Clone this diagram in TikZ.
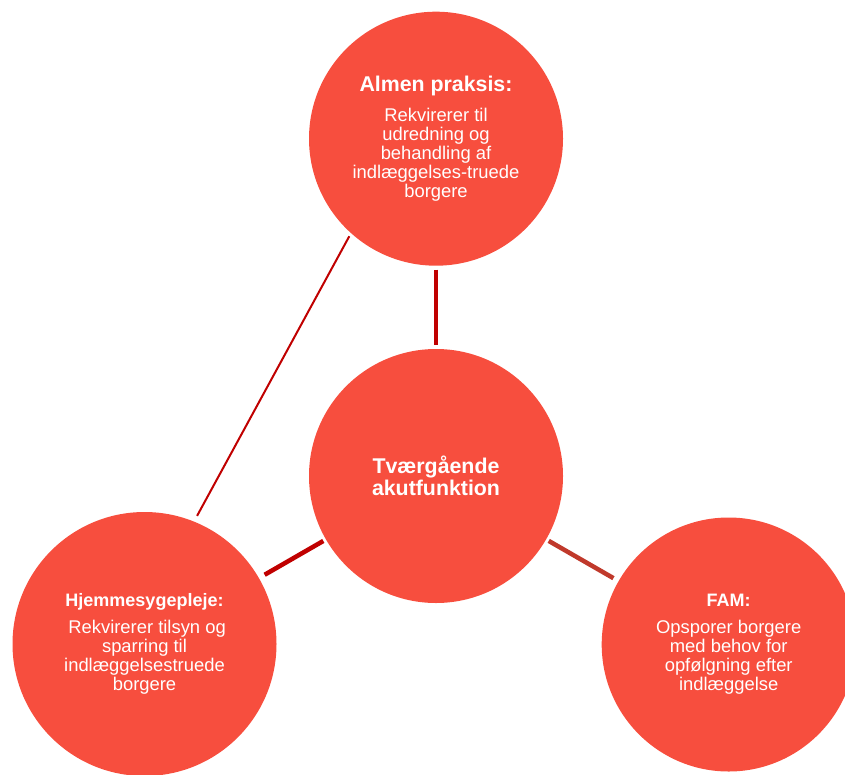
\documentclass[tikz,border=0pt]{standalone}
\usepackage{fontspec}
\setmainfont{Liberation Sans}
\definecolor{circfill}{RGB}{247,78,62}
\definecolor{linkred}{RGB}{192,0,0}
\definecolor{linkbrown}{RGB}{192,57,43}
\tikzset{
  blob/.style={circle, fill=circfill, draw=none, inner sep=0pt, outer sep=0pt,
    text=white, align=center, font=\fontsize{13.8}{14.4}\selectfont},
  thicklink/.style={draw=linkred, line width=3.4pt},
  thinlink/.style={draw=linkred, line width=1.5pt},
}
\newcommand{\bigtitle}[1]{{\fontsize{16}{16}\selectfont\bfseries #1}}
\newcommand{\smalltitle}[1]{{\fontsize{13.5}{13.5}\selectfont\bfseries #1}}
\begin{document}
\begin{tikzpicture}[x=0.75pt,y=-0.75pt]
\useasboundingbox (0,0) rectangle (845,774);
\clip (0,0) rectangle (845,774);
\node[blob, minimum size=190.5pt] (almen) at (436,138.7)
  {\bigtitle{Almen praksis:}\\[8.1pt]
   Rekvirerer til\\ udredning og\\ behandling af\\ indlæggelses-truede\\ borgere};
\node[blob, minimum size=190.5pt, font=\fontsize{16}{16.1}\selectfont\bfseries] (center) at (436,476)
  {Tværgående\\ akutfunktion};
\node[blob, minimum size=198pt] (hjem) at (144.5,644)
  {\smalltitle{Hjemmesygepleje:}\\[5.5pt]
   \hspace{0.28em}Rekvirerer tilsyn og\\ sparring til\\ indlæggelsestruede\\ borgere};
\node[blob, minimum size=190.5pt] (fam) at (728.7,644.5)
  {\smalltitle{FAM:}\\[5.5pt]
   Opsporer borgere\\ med behov for\\ opfølgning efter\\ indlæggelse};
\draw[thicklink, shorten <=3pt, shorten >=3pt] (almen) -- (center);
\draw[thicklink, shorten <=2.3pt, shorten >=5pt] (center) -- (hjem);
\draw[thicklink, draw=linkbrown, shorten <=2.3pt, shorten >=4.5pt] (center) -- (fam);
\draw[thinlink, shorten <=2.7pt, shorten >=4.9pt] (almen.228.8) -- (hjem.68.6);
\end{tikzpicture}
\end{document}
